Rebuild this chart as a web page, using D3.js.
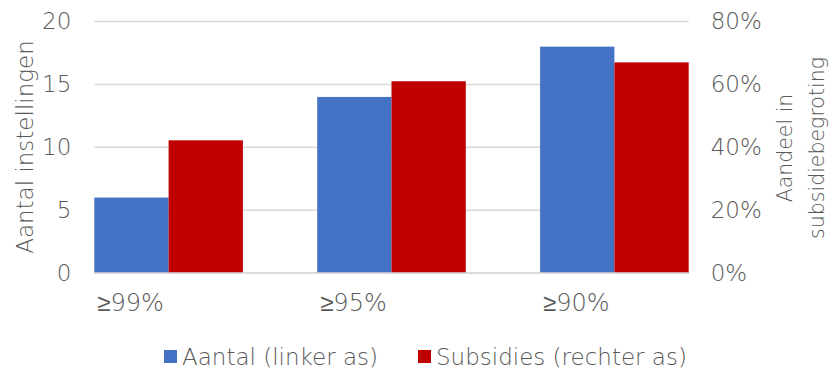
<!DOCTYPE html>
<html>
<head>
<meta charset="utf-8">
<script src="https://cdn.jsdelivr.net/npm/d3@7"></script>
<style>
  html, body { margin: 0; padding: 0; background: #fff; }
  svg text { font-family: "DejaVu Sans", sans-serif; font-weight: 200; fill: #595959; }
</style>
</head>
<body>
<svg id="chart" width="830" height="369"></svg>
<script>
// Categories and series
const categories = ["≥99%", "≥95%", "≥90%"];
const aantal = [6, 14, 18];                 // left axis: number of institutions
const subsidies = [0.422, 0.61, 0.67];      // right axis: share of subsidy budget
const leftTicks = [0, 5, 10, 15, 20];
const rightTicks = [0, 0.2, 0.4, 0.6, 0.8];
const seriesNames = ["Aantal (linker as)", "Subsidies (rechter as)"];
const colors = ["#4472C4", "#C00000"];

const svg = d3.select("#chart");
const plot = { left: 94.3, right: 688.7, top: 21.5, bottom: 273 };
const fs = "23px";

const x = d3.scaleBand().domain(categories)
  .range([plot.left, plot.right]).paddingInner(1 / 3).paddingOuter(0);
const yL = d3.scaleLinear().domain([0, 20]).range([plot.bottom, plot.top]);
const yR = d3.scaleLinear().domain([0, 0.8]).range([plot.bottom, plot.top]);
const half = x.bandwidth() / 2;

// Gridlines
svg.append("g").selectAll("line").data(leftTicks).join("line")
  .attr("x1", plot.left).attr("x2", plot.right)
  .attr("y1", d => yL(d)).attr("y2", d => yL(d))
  .attr("stroke", "#D9D9D9").attr("stroke-width", 1.5);

// Bars
svg.append("g").selectAll("rect").data(categories).join("rect")
  .attr("x", d => x(d)).attr("width", half)
  .attr("y", (d, i) => yL(aantal[i]))
  .attr("height", (d, i) => plot.bottom - yL(aantal[i]))
  .attr("fill", colors[0]);
svg.append("g").selectAll("rect").data(categories).join("rect")
  .attr("x", d => x(d) + half).attr("width", half)
  .attr("y", (d, i) => yR(subsidies[i]))
  .attr("height", (d, i) => plot.bottom - yR(subsidies[i]))
  .attr("fill", colors[1]);

// Baseline
svg.append("line").attr("x1", plot.left).attr("x2", plot.right)
  .attr("y1", plot.bottom).attr("y2", plot.bottom)
  .attr("stroke", "#D9D9D9").attr("stroke-width", 1.5);

// Left axis
const axL = svg.append("g").attr("transform", `translate(${plot.left - 23},0)`)
  .call(d3.axisLeft(yL).tickValues(leftTicks).tickSize(0).tickPadding(0));
axL.select(".domain").remove();
axL.selectAll("text").style("font-size", fs).style("fill", "#595959")
  .style("font-family", "DejaVu Sans").style("font-weight", 200);

// Right axis
const axR = svg.append("g").attr("transform", `translate(${plot.right + 22},0)`)
  .call(d3.axisRight(yR).tickValues(rightTicks).tickFormat(d3.format(".0%")).tickSize(0).tickPadding(0));
axR.select(".domain").remove();
axR.selectAll("text").style("font-size", fs).style("fill", "#595959")
  .style("font-family", "DejaVu Sans").style("font-weight", 200);

// Category labels
svg.append("g").selectAll("text").data(categories).join("text")
  .attr("x", d => x(d) + 3).attr("y", 303).attr("dy", "0.35em")
  .style("font-size", "24px").text(d => d);

// Axis titles
svg.append("text").attr("transform", `translate(25,147) rotate(-90)`)
  .attr("text-anchor", "middle").attr("dy", "0.35em").style("font-size", fs).text("Aantal instellingen");
const rt = svg.append("text").attr("transform", `translate(785,148) rotate(-90)`)
  .attr("text-anchor", "middle").style("font-size", "20.5px");
rt.append("tspan").attr("x", 0).attr("dy", "0.35em").text("Aandeel in");
rt.append("tspan").attr("x", 0).attr("dy", "1.55em").text("subsidiebegroting");

// Legend
const legendX = [164, 418];
const lg = svg.append("g").selectAll("g").data(seriesNames).join("g")
  .attr("transform", (d, i) => `translate(${legendX[i]},357)`);
lg.append("rect").attr("x", 0).attr("y", -7).attr("width", 13).attr("height", 13)
  .attr("fill", (d, i) => colors[i]);
lg.append("text").attr("x", 18).attr("dy", "0.35em").style("font-size", fs).text(d => d);
</script>
</body>
</html>
